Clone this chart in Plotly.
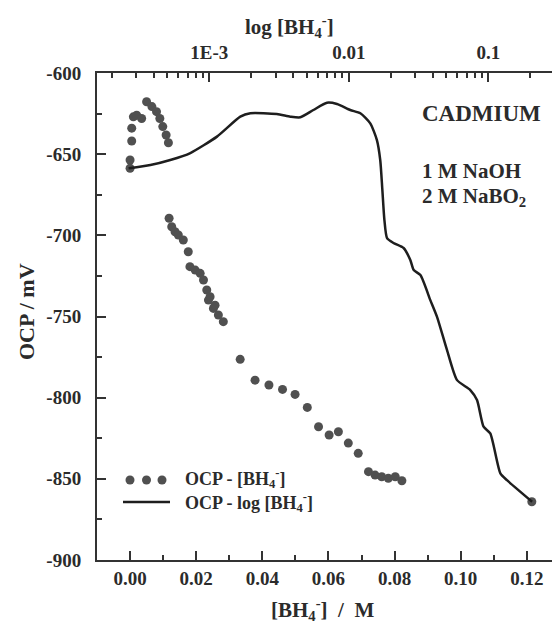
import plotly.graph_objects as go

# ---- data ----
# OCP vs [BH4-] (linear bottom axis), mV
conc_M = [0, 0, 0.0005, 0.0005, 0.001, 0.002, 0.0035, 0.005, 0.0066, 0.008, 0.009,
          0.0099, 0.0109, 0.0116, 0.0118, 0.0126, 0.0136, 0.0146, 0.0161, 0.0176,
          0.0181, 0.0197, 0.0212, 0.0222, 0.0232, 0.0237, 0.0242, 0.0252, 0.0257,
          0.0267, 0.0282, 0.0333, 0.0378, 0.042, 0.0461, 0.0499, 0.0536, 0.057,
          0.0602, 0.063, 0.066, 0.069, 0.0721, 0.0741, 0.0761, 0.0781, 0.0802,
          0.0822, 0.1215]
ocp_conc = [-658.7, -653.6, -641.9, -634.0, -627.0, -626.0, -628.0, -617.7, -620.7,
            -623.8, -628.0, -633.0, -638.2, -643.0, -689.5, -694.7, -697.8, -699.8,
            -702.9, -710.1, -719.3, -721.4, -723.4, -727.5, -733.7, -739.9, -737.8,
            -745.0, -743.0, -749.1, -753.2, -776.4, -789.2, -792.2, -794.9, -798.0,
            -806.0, -817.9, -823.0, -821.0, -828.0, -834.3, -845.6, -847.7, -848.7,
            -849.7, -848.7, -851.2, -864.1]

# OCP vs log[BH4-] (log top axis), mV
log_conc = [2.64e-4, 3.78e-4, 5.25e-4, 7.31e-4, 1.135e-3, 1.668e-3, 1.97e-3, 3.05e-3,
            3.81e-3, 4.49e-3, 5.57e-3, 6.98e-3, 8.23e-3, 1.025e-2, 1.21e-2, 1.425e-2,
            1.59e-2, 1.68e-2, 1.74e-2, 1.80e-2, 1.88e-2, 2.09e-2, 2.47e-2, 2.76e-2,
            2.92e-2, 3.26e-2, 3.84e-2, 4.29e-2, 5.06e-2, 5.97e-2, 7.43e-2, 8.30e-2,
            9.25e-2, 0.1033, 0.122, 0.136, 0.206]
ocp_log = [-658.7, -656.7, -653.6, -649.3, -639.2, -626.9, -624.8, -625.3, -626.9,
           -627.3, -622.8, -618.3, -619.1, -622.8, -624.8, -631.0, -641.3, -653.6,
           -672.0, -690.6, -701.7, -704.7, -707.8, -715.2, -721.4, -724.5, -739.9,
           -750.2, -770.7, -789.2, -795.3, -801.5, -817.9, -822.0, -846.6, -850.8,
           -864.1]

bottom_ticks = [0.00, 0.02, 0.04, 0.06, 0.08, 0.10, 0.12]
bottom_ticktext = ["0.00", "0.02", "0.04", "0.06", "0.08", "0.10", "0.12"]
top_ticks = [0.001, 0.01, 0.1]
top_ticktext = ["1E-3", "0.01", "0.1"]
top_minor = [k * 10.0 ** e for e in range(-4, 0) for k in range(2, 10)]
y_ticks = [-600, -650, -700, -750, -800, -850, -900]
y_ticktext = ["-600", "-650", "-700", "-750", "-800", "-850", "-900"]

FONT = "Liberation Serif"
INK = "#2b2b2b"
DOT = "#505050"

def bold(lst):
    return ["<b>%s</b>" % s for s in lst]

fig = go.Figure()
fig.add_trace(go.Scatter(x=conc_M, y=ocp_conc, mode="markers", xaxis="x", yaxis="y",
                         marker=dict(size=9, color=DOT), showlegend=False))
fig.add_trace(go.Scatter(x=log_conc, y=ocp_log, mode="lines", xaxis="x2", yaxis="y",
                         line=dict(color="#1e1e1e", width=2.5, shape="spline", smoothing=0.6),
                         showlegend=False))

tickfont = dict(family=FONT, size=19, color=INK)
axcommon = dict(showgrid=False, zeroline=False, showline=True, linewidth=2, linecolor="#333",
                ticks="inside", tickwidth=2, tickcolor="#333", tickfont=tickfont)

fig.update_layout(
    width=552, height=628,
    margin=dict(l=97, r=0, t=73, b=68),
    paper_bgcolor="white", plot_bgcolor="white",
    xaxis=dict(domain=[0, 1], range=[-0.01, 0.1276], tickvals=bottom_ticks,
               ticktext=bold(bottom_ticktext), ticklen=9, ticklabelstandoff=0,
               minor=dict(ticks="inside", ticklen=5, dtick=0.01, tick0=0, tickwidth=2, tickcolor="#333"),
               **axcommon),
    xaxis2=dict(overlaying="x", side="top", anchor="y", type="log", range=[-3.805, -0.5434],
                tickvals=top_ticks, ticktext=bold(top_ticktext), ticklen=9, ticklabelstandoff=4,
                minor=dict(ticks="inside", ticklen=5, tickvals=top_minor, tickwidth=2, tickcolor="#333"),
                **axcommon),
    yaxis=dict(range=[-900, -600], tickvals=y_ticks, ticktext=bold(y_ticktext), ticklen=9,
               ticklabelstandoff=10,
               minor=dict(ticks="inside", ticklen=5, dtick=25, tick0=-600, tickwidth=2, tickcolor="#333"),
               **axcommon),
)

def px2paper(px, py):
    return (px - 97) / 455.0, (560 - py) / 487.0

ann = []
def text(px, py, s, size, xanchor="center", textangle=0):
    x, y = px2paper(px, py)
    ann.append(dict(x=x, y=y, xref="paper", yref="paper", text=s, showarrow=False,
                    xanchor=xanchor, yanchor="middle", textangle=textangle,
                    font=dict(family=FONT, size=size, color=INK)))

text(322, 609, "<b>[BH<sub>4</sub><sup>-</sup>]  /  M</b>", 21)
text(289, 26, "<b>log [BH<sub>4</sub><sup>-</sup>]</b>", 21)
text(26, 312, "<b>OCP / mV</b>", 22, textangle=-90)
text(420, 113, "<b>CADMIUM</b>", 23, xanchor="left")
text(420, 171, "<b>1 M NaOH</b>", 21, xanchor="left")
text(420, 197, "<b>2 M NaBO<sub>2</sub></b>", 21, xanchor="left")
text(183, 478, "<b>OCP - [BH<sub>4</sub><sup>-</sup>]</b>", 18, xanchor="left")
text(183, 502, "<b>OCP - log [BH<sub>4</sub><sup>-</sup>]</b>", 18, xanchor="left")
fig.update_layout(annotations=ann)

# manual legend symbols
shapes = []
for cx in (130, 146.5, 162):
    x, y = px2paper(cx, 480)
    shapes.append(dict(type="circle", xref="paper", yref="paper", xsizemode="pixel",
                       ysizemode="pixel", xanchor=x, yanchor=y, x0=-4.5, x1=4.5, y0=-4.5, y1=4.5,
                       fillcolor=DOT, line=dict(width=0)))
x0, y0 = px2paper(123, 502)
x1, _ = px2paper(170, 502)
shapes.append(dict(type="line", xref="paper", yref="paper", x0=x0, x1=x1, y0=y0, y1=y0,
                   line=dict(color="#1e1e1e", width=2.5)))
fig.update_layout(shapes=shapes)

fig.write_html("out.html")
